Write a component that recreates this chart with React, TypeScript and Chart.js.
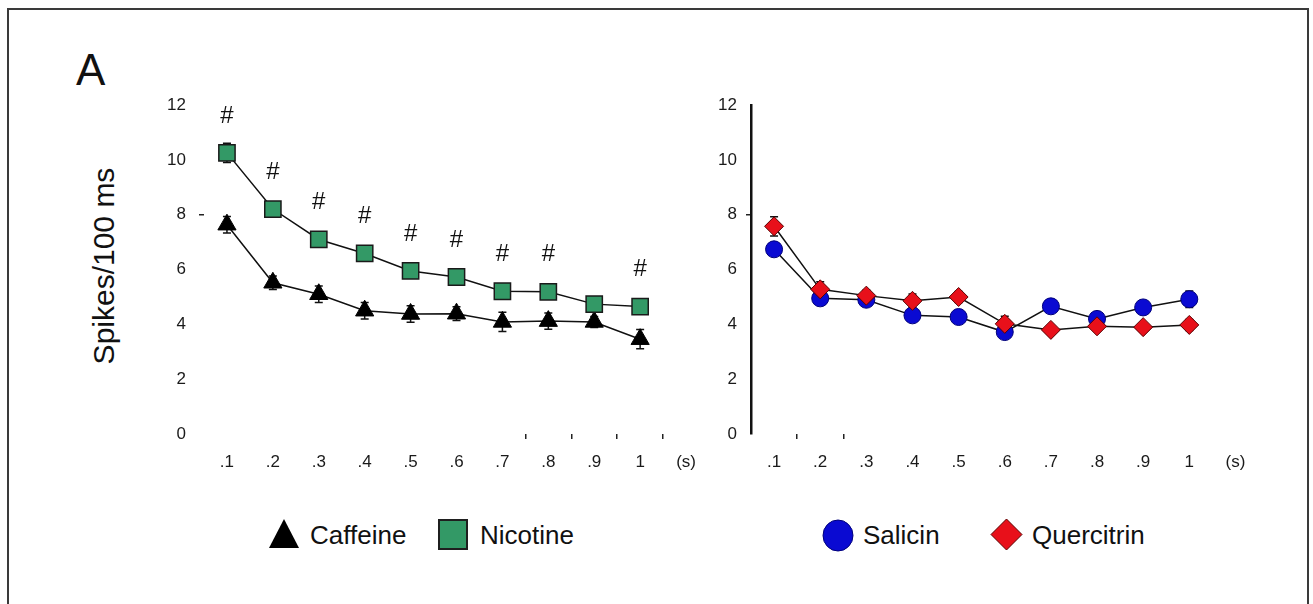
import React, { useEffect, useRef } from "react";
import { Chart, registerables } from "chart.js";
Chart.register(...registerables);

const FONT = '"Liberation Sans", Arial, sans-serif';

// ---- data ----
const leftLabels = [".1", ".2", ".3", ".4", ".5", ".6", ".7", ".8", ".9", "1", "(s)"];
const rightLabels = [".1", ".2", ".3", ".4", ".5", ".6", ".7", ".8", ".9", "1", "(s)"];
const yTickValues = [0, 2, 4, 6, 8, 10, 12];

const caffeine = [7.64, 5.52, 5.1, 4.5, 4.38, 4.39, 4.09, 4.12, 4.09, 3.46];
const caffeineErr = [0.3, 0.25, 0.3, 0.3, 0.3, 0.25, 0.35, 0.3, 0.2, 0.35];
const nicotine = [10.26, 8.21, 7.1, 6.59, 5.95, 5.73, 5.21, 5.19, 4.74, 4.65];
const nicotineErr = [0.35, 0.2, 0.2, 0.2, 0.25, 0.2, 0.2, 0.2, 0.2, 0.2];
const nicotineSig = [true, true, true, true, true, true, true, true, false, true];

const salicin = [6.74, 4.95, 4.9, 4.33, 4.27, 3.72, 4.66, 4.2, 4.62, 4.92];
const salicinErr = [0.2, 0.2, 0.15, 0.2, 0.2, 0.15, 0.2, 0.25, 0.2, 0.3];
const quercitrin = [7.58, 5.28, 5.05, 4.86, 5.0, 4.02, 3.8, 3.93, 3.9, 3.98];
const quercitrinErr = [0.35, 0.28, 0.2, 0.25, 0.2, 0.28, 0.15, 0.15, 0.15, 0.2];

const leftVisibleXTicks = [7, 8, 9, 10];
const rightVisibleXTicks = [1, 2];

// ---- plugins ----
const errorBarPlugin = {
  id: "errorBars",
  beforeDatasetsDraw(chart: any) {
    const ctx = chart.ctx;
    const yScale = chart.scales.y;
    chart.data.datasets.forEach((ds: any, i: number) => {
      if (!ds.errors) return;
      const meta = chart.getDatasetMeta(i);
      ctx.save();
      ctx.strokeStyle = "#111";
      ctx.lineWidth = 1.5;
      meta.data.forEach((el: any, j: number) => {
        const v = ds.data[j];
        const e = ds.errors[j];
        const yt = yScale.getPixelForValue(v + e);
        const yb = yScale.getPixelForValue(v - e);
        ctx.beginPath();
        ctx.moveTo(el.x, yt);
        ctx.lineTo(el.x, yb);
        ctx.moveTo(el.x - 4, yt);
        ctx.lineTo(el.x + 4, yt);
        ctx.moveTo(el.x - 4, yb);
        ctx.lineTo(el.x + 4, yb);
        ctx.stroke();
      });
      ctx.restore();
    });
  },
};

const hashPlugin = {
  id: "hashMarks",
  afterDatasetsDraw(chart: any) {
    const ctx = chart.ctx;
    chart.data.datasets.forEach((ds: any, i: number) => {
      if (!ds.sig) return;
      const meta = chart.getDatasetMeta(i);
      ctx.save();
      ctx.fillStyle = "#111";
      ctx.font = `24px ${FONT}`;
      ctx.textAlign = "center";
      ctx.textBaseline = "middle";
      meta.data.forEach((el: any, j: number) => {
        if (ds.sig[j]) ctx.fillText("#", el.x, el.y - 37);
      });
      ctx.restore();
    });
  },
};

function makeOptions(labels: string[], yWidth: number, yPad: number, showBorder: boolean, visibleX: number[]) {
  return {
    responsive: false,
    animation: false,
    layout: { padding: 0 },
    plugins: { legend: { display: false }, tooltip: { enabled: false } },
    scales: {
      x: {
        type: "category",
        labels,
        offset: true,
        grid: {
          offset: true,
          drawOnChartArea: false,
          drawTicks: true,
          tickLength: 5,
          lineWidth: 1.5,
          color: (c: any) => (visibleX.includes(c.index) ? "#222" : "rgba(0,0,0,0)"),
        },
        border: { display: false },
        ticks: {
          color: "#1a1a1a",
          font: { family: FONT, size: 17 },
          padding: 13,
          maxRotation: 0,
          autoSkip: false,
        },
        afterFit: (s: any) => {
          s.height = 47;
        },
      },
      y: {
        min: 0,
        max: 12,
        afterBuildTicks: (s: any) => {
          s.ticks = yTickValues.map((v) => ({ value: v }));
        },
        grid: {
          drawOnChartArea: false,
          drawTicks: true,
          tickLength: 5,
          lineWidth: 1.5,
          color: (c: any) => (c.tick && c.tick.value === 8 ? "#222" : "rgba(0,0,0,0)"),
        },
        border: { display: showBorder, color: "#111", width: 2.5 },
        ticks: {
          color: "#1a1a1a",
          font: { family: FONT, size: 17 },
          padding: yPad,
          callback: (v: any) => String(v),
        },
        afterFit: (s: any) => {
          s.width = yWidth;
        },
      },
    },
  };
}

function LeftChart() {
  const ref = useRef<HTMLCanvasElement>(null);
  useEffect(() => {
    const chart = new Chart(ref.current as HTMLCanvasElement, {
      type: "line",
      data: {
        labels: leftLabels,
        datasets: [
          {
            label: "Nicotine",
            data: nicotine,
            errors: nicotineErr,
            sig: nicotineSig,
            order: 0,
            borderColor: "#111",
            borderWidth: 1.5,
            pointStyle: "rect",
            pointRadius: 11.5,
            pointBackgroundColor: "#339966",
            pointBorderColor: "#1a1a1a",
            pointBorderWidth: 1.5,
            fill: false,
            tension: 0,
          } as any,
          {
            label: "Caffeine",
            data: caffeine,
            errors: caffeineErr,
            order: 1,
            borderColor: "#111",
            borderWidth: 1.5,
            pointStyle: "triangle",
            pointRadius: 10.5,
            pointBackgroundColor: "#000",
            pointBorderColor: "#000",
            pointBorderWidth: 1,
            fill: false,
            tension: 0,
          } as any,
        ],
      },
      options: makeOptions(leftLabels, 84, 13, false, leftVisibleXTicks) as any,
      plugins: [errorBarPlugin, hashPlugin],
    });
    return () => chart.destroy();
  }, []);
  return (
    <canvas
      ref={ref}
      width={602}
      height={399}
      style={{ position: "absolute", left: 120, top: 82, width: 602, height: 399 }}
    />
  );
}

function RightChart() {
  const ref = useRef<HTMLCanvasElement>(null);
  useEffect(() => {
    const chart = new Chart(ref.current as HTMLCanvasElement, {
      type: "line",
      data: {
        labels: rightLabels,
        datasets: [
          {
            label: "Quercitrin",
            data: quercitrin,
            errors: quercitrinErr,
            order: 0,
            borderColor: "#111",
            borderWidth: 1.5,
            pointStyle: "rectRot",
            pointRadius: 9.5,
            pointBackgroundColor: "#e8101a",
            pointBorderColor: "#5a0000",
            pointBorderWidth: 1,
            fill: false,
            tension: 0,
          } as any,
          {
            label: "Salicin",
            data: salicin,
            errors: salicinErr,
            order: 1,
            borderColor: "#111",
            borderWidth: 1.5,
            pointStyle: "circle",
            pointRadius: 8.5,
            pointBackgroundColor: "#0a0ad2",
            pointBorderColor: "#00007a",
            pointBorderWidth: 1,
            fill: false,
            tension: 0,
          } as any,
        ],
      },
      options: makeOptions(rightLabels, 60, 9, true, rightVisibleXTicks) as any,
      plugins: [errorBarPlugin],
    });
    return () => chart.destroy();
  }, []);
  return (
    <canvas
      ref={ref}
      width={578}
      height={395}
      style={{ position: "absolute", left: 691, top: 86, width: 578, height: 395 }}
    />
  );
}

const legendText: React.CSSProperties = {
  position: "absolute",
  top: 522,
  fontSize: 26,
  lineHeight: 1,
  color: "#111",
  whiteSpace: "nowrap",
};

export default function App() {
  return (
    <div
      style={{
        position: "absolute",
        left: 0,
        top: 0,
        width: 1313,
        height: 604,
        overflow: "hidden",
        background: "#fff",
        fontFamily: FONT,
      }}
    >
      <div
        style={{
          position: "absolute",
          left: 7,
          top: 8,
          width: 1302,
          height: 700,
          boxSizing: "border-box",
          border: "2.5px solid #3a3a3a",
        }}
      />
      <div style={{ position: "absolute", left: 76, top: 48, fontSize: 44, lineHeight: 1, color: "#111" }}>A</div>
      <div
        style={{
          position: "absolute",
          left: 104,
          top: 266,
          transform: "translate(-50%, -50%) rotate(-90deg)",
          fontSize: 30,
          lineHeight: 1,
          whiteSpace: "nowrap",
          color: "#111",
        }}
      >
        Spikes/100 ms
      </div>
      <LeftChart />
      <RightChart />

      {/* legends */}
      <svg style={{ position: "absolute", left: 268, top: 518 }} width={32} height={31}>
        <polygon points="16,1 31,30 1,30" fill="#000" />
      </svg>
      <div style={{ ...legendText, left: 310 }}>Caffeine</div>
      <div
        style={{
          position: "absolute",
          left: 438,
          top: 519,
          width: 30,
          height: 31,
          boxSizing: "border-box",
          background: "#339966",
          border: "2px solid #1f1f1f",
        }}
      />
      <div style={{ ...legendText, left: 480 }}>Nicotine</div>

      <svg style={{ position: "absolute", left: 822, top: 519 }} width={32} height={33}>
        <ellipse cx={16} cy={16.5} rx={15} ry={15.5} fill="#0a0ad2" stroke="#00007a" strokeWidth={1} />
      </svg>
      <div style={{ ...legendText, left: 863 }}>Salicin</div>
      <svg style={{ position: "absolute", left: 990, top: 518 }} width={33} height={33}>
        <polygon points="16.5,1 32,16.5 16.5,32 1,16.5" fill="#e8101a" stroke="#5a0000" strokeWidth={1} />
      </svg>
      <div style={{ ...legendText, left: 1032 }}>Quercitrin</div>
    </div>
  );
}
